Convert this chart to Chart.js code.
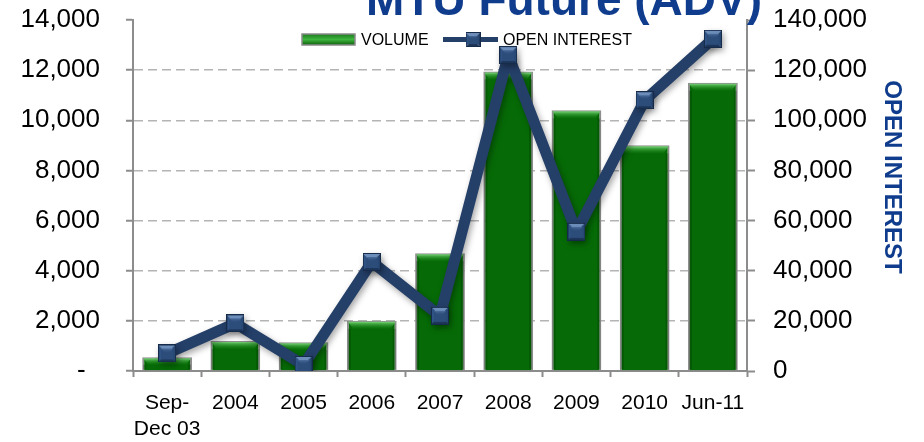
<!DOCTYPE html>
<html>
<head>
<meta charset="utf-8">
<script src="https://cdn.jsdelivr.net/npm/chart.js@4.4.0/dist/chart.umd.min.js"></script>
<style>
  html, body { margin: 0; padding: 0; background: #fff; }
  #wrap { width: 924px; height: 442px; position: relative; }
</style>
</head>
<body>
<div id="wrap"><canvas id="advChart"></canvas></div>
<script>
const categories = [['Sep-', 'Dec 03'], '2004', '2005', '2006', '2007', '2008', '2009', '2010', 'Jun-11'];
const volume = [550, 1200, 1150, 2000, 4700, 11950, 10400, 9000, 11500];
const openInterest = [7000, 19000, 2400, 43500, 22000, 126000, 55500, 108000, 132500];
const volumeTicks = [0, 2000, 4000, 6000, 8000, 10000, 12000, 14000];
const oiTicks = [0, 20000, 40000, 60000, 80000, 100000, 120000, 140000];
const chartTitle = 'MTU Future (ADV)';
const legendNames = ['VOLUME', 'OPEN INTEREST'];
const oiAxisTitle = 'OPEN INTEREST';

const FONT = '"Liberation Sans", Arial, sans-serif';
const NAVY = '#243f68';
const AXIS = '#8c8c8c';

// beveled square used as point marker
function makeMarker(size) {
  const c = document.createElement('canvas');
  c.width = size;
  c.height = size;
  const g = c.getContext('2d');
  const m = size / 2;
  const tri = (pts, col) => {
    g.beginPath();
    g.moveTo(pts[0][0], pts[0][1]);
    g.lineTo(pts[1][0], pts[1][1]);
    g.lineTo(pts[2][0], pts[2][1]);
    g.closePath();
    g.fillStyle = col;
    g.fill();
  };
  tri([[0, 0], [size, 0], [m, m]], '#6c8dba');
  tri([[0, 0], [0, size], [m, m]], '#2f5384');
  tri([[size, 0], [size, size], [m, m]], '#284875');
  tri([[0, size], [size, size], [m, m]], '#1c3559');
  g.fillStyle = '#2c4c7a';
  g.fillRect(3, 4, size - 6, size - 7);
  const gr = g.createLinearGradient(0, 3, 0, m);
  gr.addColorStop(0, '#5a7eac');
  gr.addColorStop(1, 'rgba(44,76,122,0)');
  g.fillStyle = gr;
  g.beginPath();
  g.moveTo(3, 4); g.lineTo(size - 3, 4); g.lineTo(m, m + 2); g.closePath();
  g.fill();
  g.strokeStyle = '#162b4a';
  g.lineWidth = 1;
  g.strokeRect(0.5, 0.5, size - 1, size - 1);
  return c;
}

const bigMarker = makeMarker(18);
const smallMarker = makeMarker(15);

// bevel on the bars, shadow under the line
const effects = {
  id: 'effects',
  beforeDatasetDraw(chart, args) {
    if (args.index !== 1) return;
    const ctx = chart.ctx;
    ctx.shadowColor = 'rgba(0,0,0,0.35)';
    ctx.shadowBlur = 6;
    ctx.shadowOffsetX = 2;
    ctx.shadowOffsetY = 3;
  },
  afterDatasetDraw(chart, args) {
    const ctx = chart.ctx;
    if (args.index === 1) {
      ctx.shadowColor = 'rgba(0,0,0,0)';
      ctx.shadowBlur = 0;
      ctx.shadowOffsetX = 0;
      ctx.shadowOffsetY = 0;
      return;
    }
    ctx.save();
    args.meta.data.forEach(bar => {
      const l = bar.x - bar.width / 2 + 1;
      const r = bar.x + bar.width / 2 - 1;
      const t = bar.y + 1;
      const h = Math.min(7, (bar.base - bar.y) / 2);
      const g = ctx.createLinearGradient(0, t, 0, t + h);
      g.addColorStop(0, '#6fd06f');
      g.addColorStop(1, 'rgba(20,130,20,0.2)');
      ctx.fillStyle = g;
      ctx.beginPath();
      ctx.moveTo(l, t);
      ctx.lineTo(r, t);
      ctx.lineTo(r - 5, t + h);
      ctx.lineTo(l + 5, t + h);
      ctx.closePath();
      ctx.fill();
      ctx.fillStyle = 'rgba(0,40,0,0.25)';
      ctx.fillRect(l, t + h, 3, bar.base - t - h - 1);
      ctx.fillRect(r - 3, t + h, 3, bar.base - t - h - 1);
    });
    ctx.restore();
  }
};

const overlay = {
  id: 'overlay',
  afterDraw(chart) {
    const ctx = chart.ctx;
    ctx.save();
    // title, cut off at the top edge
    ctx.font = 'bold 46px ' + FONT;
    ctx.fillStyle = '#0f3c8c';
    ctx.textAlign = 'center';
    ctx.textBaseline = 'alphabetic';
    ctx.fillText(chartTitle, 564, 15);

    // legend
    const ly = 39.5;
    const sg = ctx.createLinearGradient(0, 34, 0, 45);
    sg.addColorStop(0, '#1d7a1d');
    sg.addColorStop(0.5, '#3fb53f');
    sg.addColorStop(1, '#0c600c');
    ctx.fillStyle = sg;
    ctx.fillRect(302, 34, 53, 11);
    ctx.strokeStyle = '#8a8a8a';
    ctx.lineWidth = 1.5;
    ctx.strokeRect(302, 34, 53, 11);
    ctx.font = '16px ' + FONT;
    ctx.fillStyle = '#000';
    ctx.textAlign = 'left';
    ctx.textBaseline = 'middle';
    ctx.fillText(legendNames[0], 361, ly + 1);

    ctx.strokeStyle = NAVY;
    ctx.lineWidth = 5;
    ctx.beginPath();
    ctx.moveTo(443, ly);
    ctx.lineTo(498, ly);
    ctx.stroke();
    ctx.drawImage(smallMarker, 473 - 7.5, ly - 7.5);
    ctx.fillText(legendNames[1], 503, ly + 1);

    // right axis title
    ctx.translate(892, 177);
    ctx.rotate(Math.PI / 2);
    ctx.font = 'bold 24px ' + FONT;
    ctx.fillStyle = '#0f3c8c';
    ctx.textAlign = 'center';
    ctx.textBaseline = 'middle';
    ctx.fillText(oiAxisTitle, 0, 0);
    ctx.restore();
  }
};

function fixVertical(width) {
  return s => {
    s.width = width;
    s.paddingTop = 0;
    s.paddingBottom = 0;
  };
}

const ctx = document.getElementById('advChart').getContext('2d');
const chart = new Chart(ctx, {
  type: 'bar',
  data: {
    labels: categories,
    datasets: [{
      type: 'bar',
      label: legendNames[0],
      data: volume,
      yAxisID: 'y',
      backgroundColor: '#066b06',
      borderColor: '#8f8f8f',
      borderWidth: 2,
      barPercentage: 0.73,
      categoryPercentage: 1,
      order: 1
    }, {
      type: 'line',
      label: legendNames[1],
      data: openInterest,
      yAxisID: 'y1',
      borderColor: NAVY,
      borderWidth: 11,
      borderJoinStyle: 'bevel',
      pointStyle: bigMarker,
      pointRadius: 9,
      tension: 0,
      fill: false,
      order: 0
    }]
  },
  options: {
    responsive: true,
    maintainAspectRatio: false,
    animation: false,
    layout: { padding: { top: 20, left: 0, right: 0, bottom: 0 } },
    plugins: {
      legend: { display: false },
      title: { display: false },
      tooltip: { enabled: false }
    },
    scales: {
      x: {
        offset: true,
        grid: { offset: true, drawOnChartArea: false, drawTicks: true, tickLength: 6, tickColor: AXIS, tickWidth: 2 },
        border: { color: AXIS, width: 2 },
        ticks: { color: '#000', font: { family: FONT, size: 21 }, padding: 14, maxRotation: 0, autoSkip: false },
        afterFit(s) { s.height = 71; }
      },
      y: {
        position: 'left',
        min: 0,
        max: 14000,
        afterBuildTicks(s) { s.ticks = volumeTicks.map(v => ({ value: v })); },
        ticks: {
          color: '#000',
          font: { family: FONT, size: 26 },
          padding: 26,
          callback: v => v === 0 ? '-  ' : v.toLocaleString('en-US')
        },
        grid: {
          color: c => (c.tick && c.tick.value === 14000) ? 'rgba(0,0,0,0)' : '#b4b4b4',
          lineWidth: 1.5,
          tickLength: 7,
          tickColor: AXIS,
          tickWidth: 2
        },
        border: { color: AXIS, width: 2, dash: [9, 5] },
        afterFit: fixVertical(133)
      },
      y1: {
        position: 'right',
        min: 0,
        max: 140000,
        afterBuildTicks(s) { s.ticks = oiTicks.map(v => ({ value: v })); },
        ticks: {
          color: '#000',
          font: { family: FONT, size: 26 },
          padding: 18,
          callback: v => v.toLocaleString('en-US')
        },
        grid: { drawOnChartArea: false, tickLength: 8, tickColor: AXIS, tickWidth: 2 },
        border: { color: AXIS, width: 2 },
        afterFit: fixVertical(177)
      }
    }
  },
  plugins: [effects, overlay]
});
</script>
</body>
</html>
